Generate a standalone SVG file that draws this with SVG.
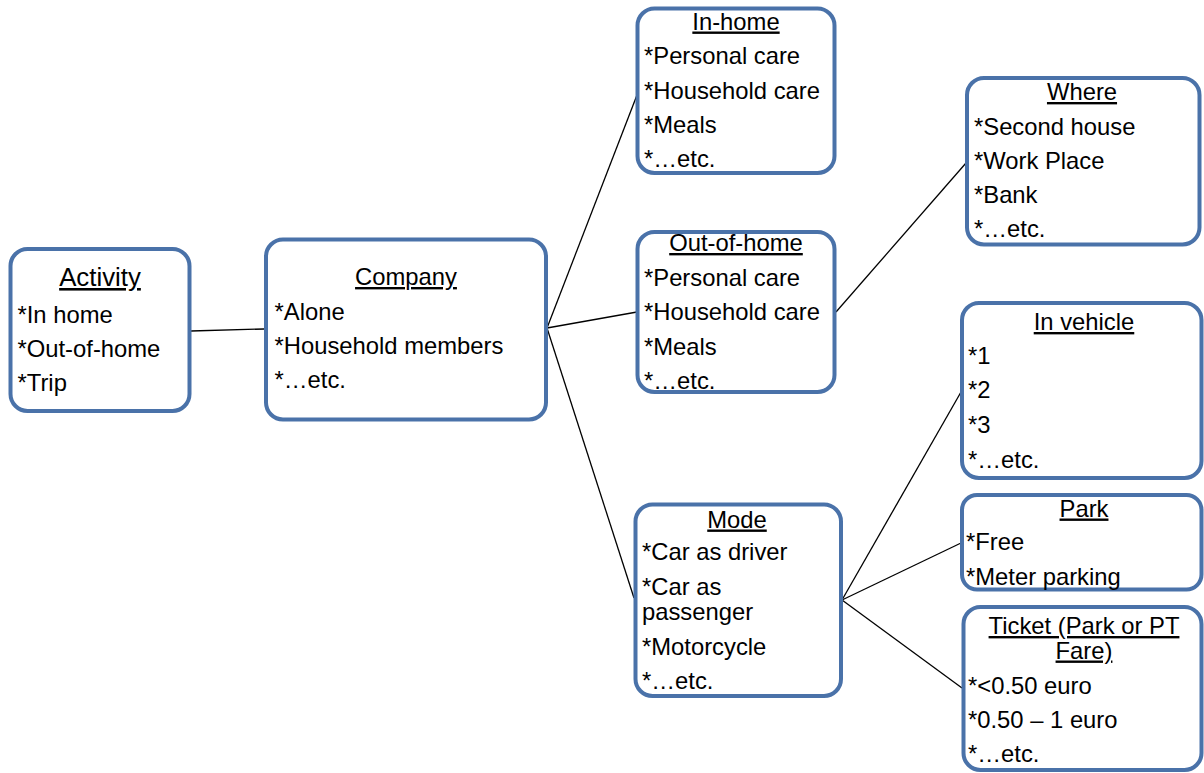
<svg xmlns="http://www.w3.org/2000/svg" width="1204" height="773" viewBox="0 0 1204 773">
<style>
.box{fill:#ffffff;stroke:#4a72a9;stroke-width:4}
.t{font-family:"Liberation Sans",Arial,sans-serif;font-size:23.8px;fill:#000}
.h{text-anchor:middle;text-decoration:underline}
.big{font-size:25.8px}
.c{stroke:#000;stroke-width:1.3;fill:none}
</style>
<rect width="1204" height="773" fill="#ffffff"/>
<g id="connectors">
<line class="c" x1="191" y1="331" x2="264" y2="329"/>
<line class="c" x1="547" y1="328" x2="637" y2="95"/>
<line class="c" x1="547" y1="328" x2="637" y2="312"/>
<line class="c" x1="547" y1="328" x2="634" y2="598"/>
<line class="c" x1="836" y1="312" x2="966" y2="163"/>
<line class="c" x1="842" y1="600" x2="961" y2="392"/>
<line class="c" x1="842" y1="600" x2="961" y2="543"/>
<line class="c" x1="842" y1="600" x2="962" y2="688"/>
</g>
<g id="activity">
<rect class="box" x="10.5" y="249" width="179" height="162" rx="17"/>
<text class="t h big" x="100" y="286">Activity</text>
<text class="t" x="17.5" y="323">*In home</text>
<text class="t" x="17.5" y="357">*Out-of-home</text>
<text class="t" x="17.5" y="391">*Trip</text>
</g>
<g id="company">
<rect class="box" x="266" y="239.5" width="280" height="180" rx="17"/>
<text class="t h" x="406" y="285">Company</text>
<text class="t" x="274.5" y="320">*Alone</text>
<text class="t" x="274.5" y="354">*Household members</text>
<text class="t" x="274.5" y="388">*…etc.</text>
</g>
<g id="in-home">
<rect class="box" x="637.5" y="8.5" width="197" height="164.5" rx="17"/>
<text class="t h" x="736" y="29.5">In-home</text>
<text class="t" x="644" y="64">*Personal care</text>
<text class="t" x="644" y="98.5">*Household care</text>
<text class="t" x="644" y="132.5">*Meals</text>
<text class="t" x="644" y="167">*…etc.</text>
</g>
<g id="out-of-home">
<rect class="box" x="637.5" y="232" width="197" height="160" rx="17"/>
<text class="t h" x="736" y="251">Out-of-home</text>
<text class="t" x="644" y="285.5">*Personal care</text>
<text class="t" x="644" y="320">*Household care</text>
<text class="t" x="644" y="354.5">*Meals</text>
<text class="t" x="644" y="389">*…etc.</text>
</g>
<g id="where">
<rect class="box" x="967" y="78" width="232.5" height="166.5" rx="17"/>
<text class="t h" x="1082" y="100">Where</text>
<text class="t" x="974" y="134.5">*Second house</text>
<text class="t" x="974" y="168.5">*Work Place</text>
<text class="t" x="974" y="202.5">*Bank</text>
<text class="t" x="974" y="237">*…etc.</text>
</g>
<g id="in-vehicle">
<rect class="box" x="962" y="303" width="239.5" height="175" rx="17"/>
<text class="t h" x="1084" y="330">In vehicle</text>
<text class="t" x="968" y="363.5">*1</text>
<text class="t" x="968" y="398">*2</text>
<text class="t" x="968" y="432.5">*3</text>
<text class="t" x="968" y="467.5">*…etc.</text>
</g>
<g id="park">
<rect class="box" x="962" y="495" width="239.5" height="94.5" rx="15"/>
<text class="t h" x="1084" y="516.5">Park</text>
<text class="t" x="966" y="550">*Free</text>
<text class="t" x="966" y="584.5">*Meter parking</text>
</g>
<g id="ticket">
<rect class="box" x="963.5" y="607" width="238" height="163" rx="17"/>
<text class="t h" x="1084" y="634">Ticket (Park or PT<tspan x="1084" dy="24.5">Fare)</tspan></text>
<text class="t" x="968" y="693.5">*&lt;0.50 euro</text>
<text class="t" x="968" y="727.5">*0.50 – 1 euro</text>
<text class="t" x="968" y="761.5">*…etc.</text>
</g>
<g id="mode">
<rect class="box" x="635.5" y="504.5" width="205.5" height="191.5" rx="17"/>
<text class="t h" x="737" y="527.5">Mode</text>
<text class="t" x="642" y="560">*Car as driver</text>
<text class="t" x="642" y="595">*Car as<tspan x="642" dy="25">passenger</tspan></text>
<text class="t" x="642" y="654.5">*Motorcycle</text>
<text class="t" x="642" y="688.5">*…etc.</text>
</g>
</svg>
